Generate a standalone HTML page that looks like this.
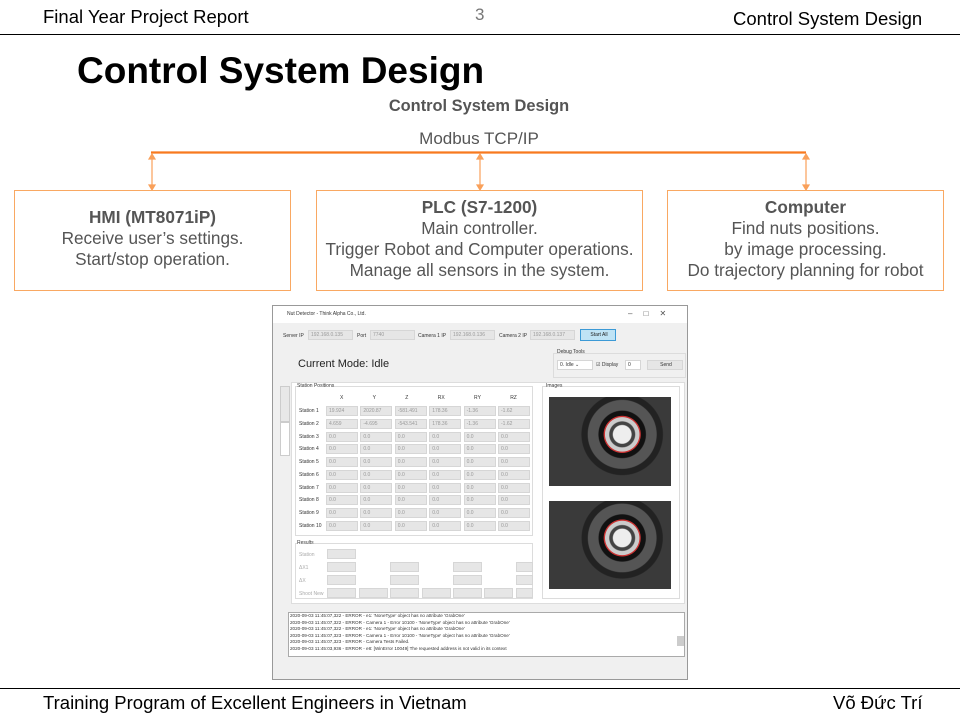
<!DOCTYPE html>
<html><head><meta charset="utf-8"><style>
*{margin:0;padding:0;box-sizing:border-box}
body{width:960px;height:720px;background:#fff;position:relative;overflow:hidden;font-family:"Liberation Sans","DejaVu Sans",sans-serif}
.a{position:absolute;white-space:nowrap}
.box{position:absolute;border:1.5px solid #f9a862;text-align:center;color:#555;font-size:17.2px;line-height:21px}
.box b{color:#555}
.app{position:absolute;left:272px;top:305px;width:416px;height:375px;background:#f0f0f0;border:1px solid #999;font-size:5px;color:#444;overflow:hidden}
.i{position:absolute;background:#e6e6e6;border:1px solid #d6d6d6;height:10px;font-size:5px;color:#999;padding-left:2px;line-height:8px}
.l{position:absolute;font-size:5px;color:#333}
.g{position:absolute;border:1px solid #dcdcdc;background:#f7f7f7}
.img{position:absolute;background:radial-gradient(circle at 60% 42%,#eee 0 10%,#444 11% 14%,#ccc 15% 19%,#c33 19.5% 20.5%,#111 21% 26%,#555 27% 38%,#222 39% 45%,#3a3a3a 46%);}
</style></head><body>
<div class="a" style="left:43px;top:6px;font-size:18.5px">Final Year Project Report</div>
<div class="a" style="left:475px;top:5px;font-size:17px;color:#777">3</div>
<div class="a" style="left:733px;top:8px;font-size:18.5px">Control System Design</div>
<div class="a" style="left:0;top:34px;width:960px;height:1px;background:#000"></div>
<div class="a" style="left:77px;top:50px;font-size:37px;font-weight:bold">Control System Design</div>
<div class="a" style="left:0;width:958px;top:97px;text-align:center;font-size:16.4px;font-weight:bold;color:#555">Control System Design</div>
<div class="a" style="left:0;width:958px;top:129px;text-align:center;font-size:17px;color:#555">Modbus TCP/IP</div>
<svg class="a" style="left:0;top:0" width="960" height="300">
<g stroke="#f8791e" fill="none"><line x1="151" y1="152.5" x2="806" y2="152.5" stroke-width="2.2"/></g>
<g stroke="#f9a05a" stroke-width="1.2" fill="#f9a05a">
<line x1="152" y1="155" x2="152" y2="188"/><line x1="480" y1="155" x2="480" y2="188"/><line x1="806" y1="155" x2="806" y2="188"/>
<path d="M149,159 L152,154 L155,159Z M149,185 L152,190 L155,185Z M477,159 L480,154 L483,159Z M477,185 L480,190 L483,185Z M803,159 L806,154 L809,159Z M803,185 L806,190 L809,185Z"/></g></svg>
<div class="box" style="left:14px;top:190px;width:277px;height:101px;padding-top:16px"><b>HMI (MT8071iP)</b><br>Receive user’s settings.<br>Start/stop operation.</div>
<div class="box" style="left:316px;top:190px;width:327px;height:101px;padding-top:6px"><b>PLC (S7-1200)</b><br>Main controller.<br>Trigger Robot and Computer operations.<br>Manage all sensors in the system.</div>
<div class="box" style="left:667px;top:190px;width:277px;height:101px;padding-top:6px"><b>Computer</b><br>Find nuts positions.<br>by image processing.<br>Do trajectory planning for robot</div>

<div class="app">
<div class="a" style="left:0;top:0;width:416px;height:17px;background:#fff"></div>
<div class="l" style="left:14px;top:5px">Nut Detector - Think Alpha Co., Ltd.</div>
<div class="l" style="left:355px;top:3px;font-size:8px;color:#555">–&nbsp;&nbsp;&nbsp;&nbsp;&nbsp;□&nbsp;&nbsp;&nbsp;&nbsp;&nbsp;✕</div>
<div class="l" style="left:10px;top:27px">Server IP</div><div class="i" style="left:35px;top:24px;width:45px">192.168.0.135</div>
<div class="l" style="left:84px;top:27px">Port</div><div class="i" style="left:97px;top:24px;width:45px">7740</div>
<div class="l" style="left:145px;top:27px">Camera 1 IP</div><div class="i" style="left:177px;top:24px;width:45px">192.168.0.136</div>
<div class="l" style="left:226px;top:27px">Camera 2 IP</div><div class="i" style="left:257px;top:24px;width:45px">192.168.0.137</div>
<div class="i" style="left:307px;top:23px;width:36px;height:12px;background:#bfe3f5;border-color:#3c9ad6;color:#222;text-align:center;line-height:10px">Start All</div>
<div class="l" style="left:25px;top:52px;font-size:11px;color:#222">Current Mode: Idle</div>
<div class="g" style="left:280px;top:47px;width:133px;height:25px;background:#f0f0f0"></div>
<div class="l" style="left:284px;top:43px">Debug Tools</div>
<div class="i" style="left:284px;top:54px;width:36px;background:#fff;color:#333">0. Idle ⌄</div>
<div class="l" style="left:323px;top:56px">☑ Display</div>
<div class="i" style="left:352px;top:54px;width:16px;background:#fff;color:#333">0</div>
<div class="i" style="left:374px;top:54px;width:36px;text-align:center;color:#333">Send</div>
<div class="g" style="left:18px;top:76px;width:394px;height:222px;background:#fff;border-color:#ddd"></div>
<div class="l" style="left:7px;top:80px;width:10px;height:36px;background:#e8e8e8;border:1px solid #ccc"></div>
<div class="l" style="left:7px;top:116px;width:10px;height:34px;background:#fff;border:1px solid #ccc"></div>
<div class="g" style="left:22px;top:80px;width:238px;height:150px;background:#fff"></div>
<div class="l" style="left:24px;top:77px;background:#fff">Station Positions</div>
<div class="g" style="left:269px;top:80px;width:138px;height:213px;background:#fff"></div>
<div class="l" style="left:273px;top:77px;background:#fff">Images</div>
<div class="img" style="left:276px;top:91px;width:122px;height:89px"></div>
<div class="img" style="left:276px;top:195px;width:122px;height:88px"></div>
<div class="l" style="left:67px;top:89px;word-spacing:28px">X Y Z RX RY RZ</div>
<div id="t"></div>
<div class="g" style="left:22px;top:237px;width:238px;height:56px;background:#fff"></div>
<div class="l" style="left:24px;top:234px;background:#fff">Results</div>
<div class="l" style="left:26px;top:246px;color:#aaa">Station</div><div class="i" style="left:54px;top:243px;width:29px"></div>
<div class="l" style="left:26px;top:259px;color:#aaa">ΔX1</div><div class="l" style="left:26px;top:272px;color:#aaa">ΔX</div><div class="l" style="left:26px;top:285px;color:#aaa">Shoot New</div>
<div class="i" style="left:54px;top:256px;width:29px"></div><div class="i" style="left:117px;top:256px;width:29px"></div><div class="i" style="left:180px;top:256px;width:29px"></div><div class="i" style="left:243px;top:256px;width:17px"></div>
<div class="i" style="left:54px;top:269px;width:29px"></div><div class="i" style="left:117px;top:269px;width:29px"></div><div class="i" style="left:180px;top:269px;width:29px"></div><div class="i" style="left:243px;top:269px;width:17px"></div>
<div class="i" style="left:54px;top:282px;width:29px"></div><div class="i" style="left:86px;top:282px;width:29px"></div><div class="i" style="left:117px;top:282px;width:29px"></div><div class="i" style="left:149px;top:282px;width:29px"></div><div class="i" style="left:180px;top:282px;width:29px"></div><div class="i" style="left:211px;top:282px;width:29px"></div><div class="i" style="left:243px;top:282px;width:17px"></div>
<div class="g" style="left:15px;top:306px;width:397px;height:45px;background:#fff;border-color:#aaa"></div>
<div class="l" style="left:17px;top:307px;font-size:4.6px;line-height:6.5px;color:#333">2020-09-03 11:45:07,322 - ERROR - e1: 'NoneType' object has no attribute 'GrabOne'<br>2020-09-03 11:45:07,322 - ERROR - Camera 1 - Error 10100 - 'NoneType' object has no attribute 'GrabOne'<br>2020-09-03 11:45:07,322 - ERROR - e1: 'NoneType' object has no attribute 'GrabOne'<br>2020-09-03 11:45:07,323 - ERROR - Camera 1 - Error 10100 - 'NoneType' object has no attribute 'GrabOne'<br>2020-09-03 11:45:07,323 - ERROR - Camera Tests Failed.<br>2020-09-03 11:45:03,936 - ERROR - e8: [WinError 10049] The requested address is not valid in its context</div>
<div class="a" style="left:404px;top:330px;width:7px;height:10px;background:#ccc"></div>
</div>
<script>
var s='',c=[[19.924,2020.87,-581.491,178.36,-1.36,-1.62],[4.659,-4.695,-543.541,178.36,-1.36,-1.62]];
for(var r=0;r<10;r++){var y=100+r*12.75;s+='<div class="l" style="left:26px;top:'+(y+2)+'px">Station '+(r+1)+'</div>';
for(var k=0;k<6;k++){s+='<div class="i" style="left:'+(53+k*34.4)+'px;top:'+y+'px;width:32px">'+(r<2?c[r][k]:'0.0')+'</div>';}}
document.getElementById('t').outerHTML=s;
</script>
<div class="a" style="left:0;top:688px;width:960px;height:1px;background:#000"></div>
<div class="a" style="left:43px;top:692px;font-size:18.5px">Training Program of Excellent Engineers in Vietnam</div>
<div class="a" style="left:833px;top:692px;font-size:18.5px">Võ Đức Trí</div>
</body></html>
